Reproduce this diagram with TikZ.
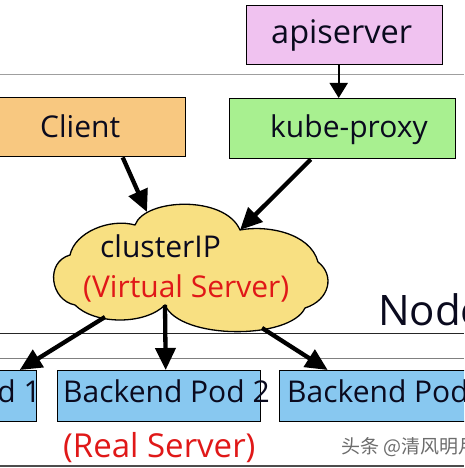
\documentclass[tikz,border=0pt]{standalone}
\usepackage{fontspec}
\setmainfont{Open Sans}
\newfontfamily\cjk{Noto Sans CJK SC}
\usetikzlibrary{arrows.meta}
\definecolor{apifill}{RGB}{240,194,240}
\definecolor{clientfill}{RGB}{248,200,128}
\definecolor{kpfill}{RGB}{168,240,144}
\definecolor{cloudfill}{RGB}{248,224,130}
\definecolor{podfill}{RGB}{136,200,240}
\definecolor{redtxt}{RGB}{224,24,24}
\definecolor{txt}{RGB}{10,10,30}
\begin{document}
\begin{tikzpicture}[x=1pt,y=-1pt,
  box/.style={draw=black, line width=1.4pt, inner sep=0pt, anchor=north west},
  lbl/.style={font=\fontsize{30}{32}\selectfont, text=txt, inner sep=0pt, anchor=base west},
  bigarrow/.style={-{Triangle[length=22pt,width=20pt]}, line width=4.3pt},
  thinarrow/.style={-{Triangle[length=15pt,width=18pt]}, line width=1.8pt}]
\useasboundingbox (0,0) rectangle (464,468);
\clip (0,0) rectangle (464,468);
\fill[white] (0,0) rectangle (464,468);
% horizontal lines
\draw[gray!75, line width=1pt] (0,75) -- (464,75);
\draw[black!85, line width=0.8pt] (0,333) -- (464,333);
\draw[gray, line width=1pt] (0,358) -- (464,358);
\draw[gray!60!black, line width=1.2pt] (0,466) -- (464,466);
% cloud
\draw[fill=cloudfill, line width=1.3pt]
  (75,305) .. controls (50,300) and (45,262) .. (70,255)
  .. controls (75,232) and (110,218) .. (135,225)
  .. controls (145,198) and (225,195) .. (240,230)
  .. controls (265,225) and (310,232) .. (318,262)
  .. controls (335,275) and (330,300) .. (305,308)
  .. controls (290,340) and (180,340) .. (165,305)
  .. controls (145,325) and (95,325) .. (75,305) -- cycle;
\coordinate (ctop) at (147,212);
\coordinate (cright) at (240,230);
\coordinate (cbl) at (105,317);
\coordinate (cbm) at (165,305);
\coordinate (cbr) at (262,328);
\node[lbl] (cip) at (100,257) {clusterIP};
\node[lbl, text=redtxt] (vs) at (83,297) {(Virtual Server)};
% boxes
\node[box, fill=apifill, minimum width=196pt, minimum height=59pt] (api) at (246,5) {};
\node[lbl, font=\fontsize{32.5}{34}\selectfont] (apit) at (271,44) {apiserver};
\node[box, fill=clientfill, minimum width=190pt, minimum height=59pt] (client) at (-5,97) {};
\node[lbl] (clientt) at (40,137) {Client};
\node[box, fill=kpfill, minimum width=226pt, minimum height=60pt] (kp) at (229,98) {};
\node[lbl] (kpt) at (270,137) {kube-proxy};
\node[box, fill=podfill, minimum width=60pt, minimum height=51pt] (pod1) at (-24,370) {};
\node[lbl, anchor=base east] (pod1t) at (41,402) {Backend Pod 1};
\node[box, fill=podfill, minimum width=203pt, minimum height=51pt] (pod2) at (57,370) {};
\node[lbl] (pod2t) at (63,402) {Backend Pod 2};
\node[box, fill=podfill, minimum width=200pt, minimum height=51pt] (pod3) at (279,370) {};
\node[lbl] (pod3t) at (287,402) {Backend Pod 3};
% texts
\node[lbl, font=\fontsize{42}{44}\selectfont] (nodet) at (378,325) {Node};
\node[lbl, text=redtxt, font=\fontsize{33}{35}\selectfont] (rs) at (63,457) {(Real Server)};
\node[anchor=base west, inner sep=0pt, text=gray!85!black, font=\cjk\fontsize{19}{20}\selectfont] (wm) at (341,453) {头条 @清风明月};
% arrows
\draw[thinarrow] ([xshift=-6pt]api.south) -- ([xshift=-4pt]kp.north);
\draw[bigarrow] ([xshift=32pt]client.south) -- (ctop);
\draw[bigarrow] ([xshift=-32pt]kp.south) -- (cright);
\draw[bigarrow] (cbl) -- ([xshift=13pt]pod1.north);
\draw[bigarrow] (cbm) -- ([xshift=6.5pt]pod2.north);
\draw[bigarrow] (cbr) -- ([xshift=-52pt]pod3.north);
\end{tikzpicture}
\end{document}
